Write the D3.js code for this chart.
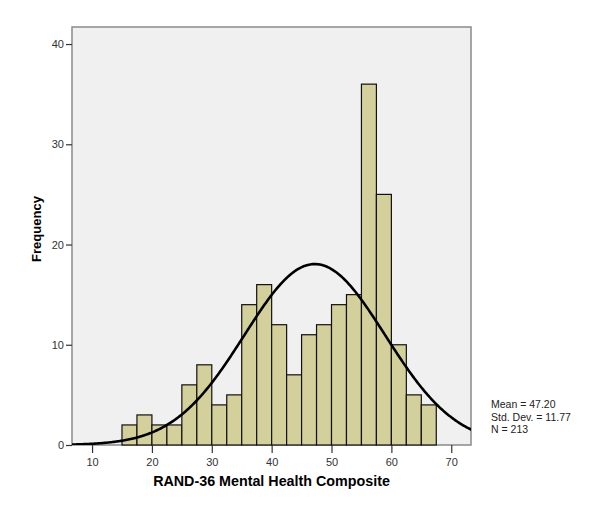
<!DOCTYPE html>
<html>
<head>
<meta charset="utf-8">
<script src="https://cdn.jsdelivr.net/npm/d3@7"></script>
<style>
  body { margin: 0; background: #fff; }
  text { font-family: "Liberation Sans", Arial, sans-serif; }
</style>
</head>
<body>
<div id="viz"></div>
<script>
// histogram bins (lower edge) and counts
const binStarts = [15, 17.5, 20, 22.5, 25, 27.5, 30, 32.5, 35, 37.5, 40, 42.5, 45, 47.5, 50, 52.5, 55, 57.5, 60, 62.5, 65];
const counts = [2, 3, 2, 2, 6, 8, 4, 5, 14, 16, 12, 7, 11, 12, 14, 15, 36, 25, 10, 5, 4];
const binWidth = 2.5;
const xTicks = [10, 20, 30, 40, 50, 60, 70];
const yTicks = [0, 10, 20, 30, 40];
const stats = { mean: 47.20, sd: 11.77, n: 213 };

const margin = {top: 27, right: 129, bottom: 69, left: 72},
    width = 600 - margin.left - margin.right,
    height = 514 - margin.top - margin.bottom;

const svg = d3.select("#viz")
  .append("svg")
    .attr("width", 600)
    .attr("height", 514);

const g = svg.append("g")
    .attr("transform", `translate(${margin.left},${margin.top})`);

const x = d3.scaleLinear().domain([6.65, 73.3]).range([0, width]);
const y = d3.scaleLinear().domain([0, 41.7]).range([height, 0]);

// plot background
g.append("rect")
    .attr("width", width)
    .attr("height", height)
    .attr("fill", "#f0f0f0")
    .attr("stroke", "#8a8a8a")
    .attr("stroke-width", 1.5);

g.append("clipPath").attr("id", "clip")
  .append("rect").attr("width", width).attr("height", height);

// bars
g.selectAll(".bar")
  .data(counts)
  .join("rect")
    .attr("class", "bar")
    .attr("x", (d, i) => x(binStarts[i]))
    .attr("width", (d, i) => x(binStarts[i] + binWidth) - x(binStarts[i]))
    .attr("y", d => y(d))
    .attr("height", d => y(0) - y(d))
    .attr("fill", "#d4d09b")
    .attr("stroke", "#111")
    .attr("stroke-width", 1.2);

// normal curve
const scale = stats.n * binWidth / (stats.sd * Math.sqrt(2 * Math.PI));
const curvePts = d3.range(x.domain()[0], x.domain()[1] + 0.2, 0.2).map(v => ({
  v: v,
  f: scale * Math.exp(-0.5 * Math.pow((v - stats.mean) / stats.sd, 2))
}));
g.append("path")
    .datum(curvePts)
    .attr("clip-path", "url(#clip)")
    .attr("fill", "none")
    .attr("stroke", "#000")
    .attr("stroke-width", 2.6)
    .attr("d", d3.line().x(d => x(d.v)).y(d => y(d.f)));

// axes
const xAxis = g.append("g")
    .attr("transform", `translate(0,${height})`)
    .call(d3.axisBottom(x).tickValues(xTicks).tickSize(8).tickSizeOuter(0));
const yAxis = g.append("g")
    .call(d3.axisLeft(y).tickValues(yTicks).tickSize(6).tickSizeOuter(0));
[xAxis, yAxis].forEach(a => {
  a.select(".domain").remove();
  a.selectAll(".tick line").attr("stroke", "#333").attr("stroke-width", 1.2);
  a.selectAll(".tick text")
    .attr("fill", "#333")
    .style("font-size", "11px")
    .style("font-family", "Liberation Sans, Arial, sans-serif");
});
xAxis.selectAll(".tick text").attr("dy", "0.9em");
yAxis.selectAll(".tick text").attr("x", -8);

// axis titles
svg.append("text")
    .attr("x", margin.left + width / 2)
    .attr("y", 486)
    .attr("text-anchor", "middle")
    .style("font-size", "14.3px")
    .style("font-weight", "bold")
    .text("RAND-36 Mental Health Composite");

svg.append("text")
    .attr("transform", `translate(41,229) rotate(-90)`)
    .attr("text-anchor", "middle")
    .style("font-size", "13px")
    .style("font-weight", "bold")
    .text("Frequency");

// stats legend
const legend = ["Mean = " + stats.mean.toFixed(2), "Std. Dev. = " + stats.sd.toFixed(2), "N = " + stats.n];
svg.append("g").selectAll("text")
  .data(legend)
  .join("text")
    .attr("x", 491)
    .attr("y", (d, i) => 408 + i * 12.5)
    .attr("fill", "#222")
    .style("font-size", "10.5px")
    .text(d => d);
</script>
</body>
</html>
